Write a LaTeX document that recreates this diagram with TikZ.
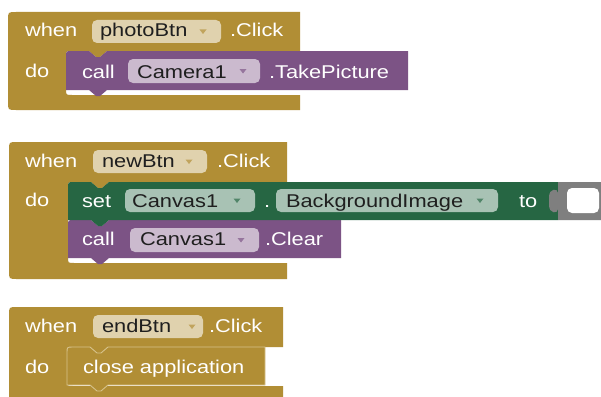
\documentclass[tikz,border=0pt]{standalone}
\usepackage{fontspec}
\setmainfont{Liberation Sans}[FakeStretch=1.18]
\newcommand\blkfont{\fontsize{18.5}{20}\selectfont}
\definecolor{gold}{HTML}{B18E35}
\definecolor{goldfield}{HTML}{E0D2AE}
\definecolor{goldline}{HTML}{D6C28C}
\definecolor{purp}{HTML}{7C5385}
\definecolor{purpfield}{HTML}{CBBACE}
\definecolor{grn}{HTML}{266643}
\definecolor{grnfield}{HTML}{A8C2B4}
\definecolor{sockgrey}{HTML}{7F7F7F}
% event (C-shaped) block: L T R1 B1 IX B2 B3 R2
\newcommand\evblock[8]{%
 \fill[gold] ({#1},{#2+8}) .. controls ({#1},{#2}) .. ({#1+8},{#2}) -- ({#3},{#2}) -- ({#3},{#4})
  -- ({#5+41},{#4}) -- ({#5+34},{#4+6}) -- ({#5+30},{#4+6}) -- ({#5+23},{#4})
  -- ({#5+6},{#4}) .. controls ({#5},{#4}) .. ({#5},{#4+6}) -- ({#5},{#6-6})
  .. controls ({#5},{#6}) .. ({#5+6},{#6}) -- ({#8},{#6}) -- ({#8},{#7})
  -- ({#1+8},{#7}) .. controls ({#1},{#7}) .. ({#1},{#7-8}) -- cycle;}
% statement block: style L T R B
\newcommand\stblock[5]{%
 \path[#1] ({#2},{#3+6}) .. controls ({#2},{#3}) .. ({#2+6},{#3}) -- ({#2+23},{#3})
  -- ({#2+30},{#3+6}) -- ({#2+34},{#3+6}) -- ({#2+41},{#3}) -- ({#4},{#3}) -- ({#4},{#5})
  -- ({#2+41},{#5}) -- ({#2+34},{#5+6}) -- ({#2+30},{#5+6}) -- ({#2+23},{#5})
  -- ({#2},{#5}) -- cycle;}
% dropdown field: fill arrowcolor x1 y1 x2 y2 arrowx
\newcommand\ddfield[7]{%
 \fill[#1, rounded corners=5pt] ({#3},{#4}) rectangle ({#5},{#6});
 \fill[#2] ({#7-3.5},{(#4+#6)/2-2}) -- ({#7+3.5},{(#4+#6)/2-2}) -- ({#7},{(#4+#6)/2+2.5}) -- cycle;}
\begin{document}
\begin{tikzpicture}[x=1pt,y=-1pt,
  txt/.style={anchor=base west, inner sep=0pt, outer sep=0pt, text=white, font=\blkfont},
  ftxt/.style={txt, text=black!88}]
\clip (0,0) rectangle (601,396);
\fill[white] (0,0) rectangle (601,396);

% ---------- block 1 ----------
\evblock{8}{12}{300}{51}{66}{95}{110}{300}
\stblock{fill=purp}{66}{51}{408}{90}
\ddfield{goldfield}{gold!80}{92}{20}{221}{43}{203}
\ddfield{purpfield}{purp!80}{128}{59}{260}{83}{243}
\node[txt]  (w1)  at (25,37)  {when};
\node[ftxt] (p1)  at (100,37) {photoBtn};
\node[txt]  (c1)  at (230,37) {.Click};
\node[txt]  (d1)  at (25,77)  {do};
\node[txt]  (k1)  at (82,78)  {call};
\node[ftxt] (cam) at (137,78) {Camera1};
\node[txt]  (tp)  at (269,78) {.TakePicture};

% ---------- block 2 ----------
\evblock{9}{142}{287}{182}{68}{263}{279}{287}
\stblock{fill=purp}{68}{220}{341}{258}
\stblock{fill=grn}{68}{182}{558}{220}
\fill[sockgrey] (558,182) -- (601,182) -- (601,220) -- (558,220) -- (558,209)
  .. controls (558,214) and (549,214) .. (549,205) -- (549,197)
  .. controls (549,188) and (558,188) .. (558,193) -- cycle;
\fill[white, rounded corners=5pt] (567,188) rectangle (599,213);
\ddfield{goldfield}{gold!80}{93}{150}{207}{173}{189}
\ddfield{grnfield}{grn!80}{125}{189}{255}{212}{237}
\ddfield{grnfield}{grn!80}{276}{189}{498}{212}{480}
\ddfield{purpfield}{purp!80}{130}{228}{259}{252}{241}
\node[txt]  (w2)  at (25,167)  {when};
\node[ftxt] (nb)  at (102,167) {newBtn};
\node[txt]  (c2)  at (217,167) {.Click};
\node[txt]  (d2)  at (25,206)  {do};
\node[txt]  (st)  at (82,207)  {set};
\node[ftxt] (cv1) at (132,207) {Canvas1};
\node[txt]  (dot) at (264,207) {.};
\node[ftxt] (bg)  at (286,207) {BackgroundImage};
\node[txt]  (to)  at (519,207) {to};
\node[txt]  (k2)  at (82,245)  {call};
\node[ftxt] (cv2) at (140,245) {Canvas1};
\node[txt]  (clr) at (265,245) {.Clear};

% ---------- block 3 ----------
\evblock{9}{307}{283}{347}{67}{386}{410}{283}
\stblock{fill=gold, draw=goldline, line width=0.9pt}{67}{347}{265}{385}
\ddfield{goldfield}{gold!80}{93}{315}{203}{338}{192}
\node[txt]  (w3)  at (25,332)  {when};
\node[ftxt] (eb)  at (102,332) {endBtn};
\node[txt]  (c3)  at (209,332) {.Click};
\node[txt]  (d3)  at (25,373)  {do};
\node[txt]  (ca)  at (83,373)  {close application};
\end{tikzpicture}
\end{document}
